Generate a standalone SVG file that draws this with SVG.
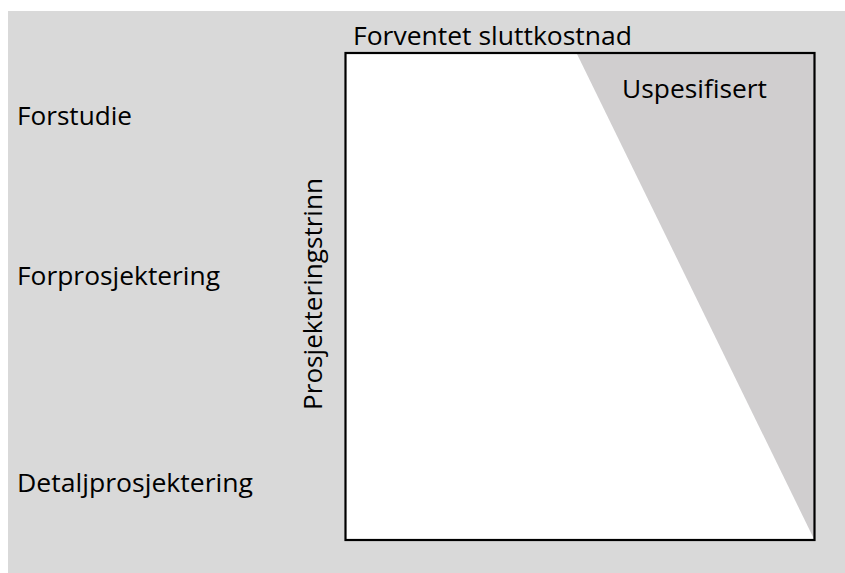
<svg xmlns="http://www.w3.org/2000/svg" width="845" height="573" viewBox="0 0 845 573">
  <style>
    .lbl { font-family: "Open Sans", "Noto Sans", "Liberation Sans", sans-serif; font-size: 26px; fill: #000; }
  </style>
  <!-- page background -->
  <rect x="0" y="0" width="845" height="573" fill="#ffffff"/>
  <rect x="8" y="11" width="837" height="562" fill="#d9d9d9"/>

  <!-- cost chart -->
  <g id="chart">
    <rect x="345.5" y="53" width="469" height="487" fill="#ffffff"/>
    <polygon points="577,54 814,54 814,539" fill="#d0cecf"/>
    <rect x="345.5" y="53" width="469" height="487" fill="none" stroke="#000" stroke-width="2.2"/>
  </g>

  <g id="title">
    <text class="lbl" x="353" y="45" textLength="279" lengthAdjust="spacingAndGlyphs">Forventet sluttkostnad</text>
  </g>
  <g id="uspesifisert">
    <text class="lbl" x="622" y="98" textLength="145" lengthAdjust="spacingAndGlyphs">Uspesifisert</text>
  </g>

  <!-- phases -->
  <g id="forstudie">
    <text class="lbl" x="17" y="125" textLength="115" lengthAdjust="spacingAndGlyphs">Forstudie</text>
  </g>
  <g id="forprosjektering">
    <text class="lbl" x="17" y="285" textLength="203" lengthAdjust="spacingAndGlyphs">Forprosjektering</text>
  </g>
  <g id="detaljprosjektering">
    <text class="lbl" x="17" y="492" textLength="236" lengthAdjust="spacingAndGlyphs">Detaljprosjektering</text>
  </g>

  <g id="axis-label">
    <text class="lbl" transform="translate(322 410) rotate(-90)" x="0" y="0" textLength="232" lengthAdjust="spacingAndGlyphs">Prosjekteringstrinn</text>
  </g>
</svg>
